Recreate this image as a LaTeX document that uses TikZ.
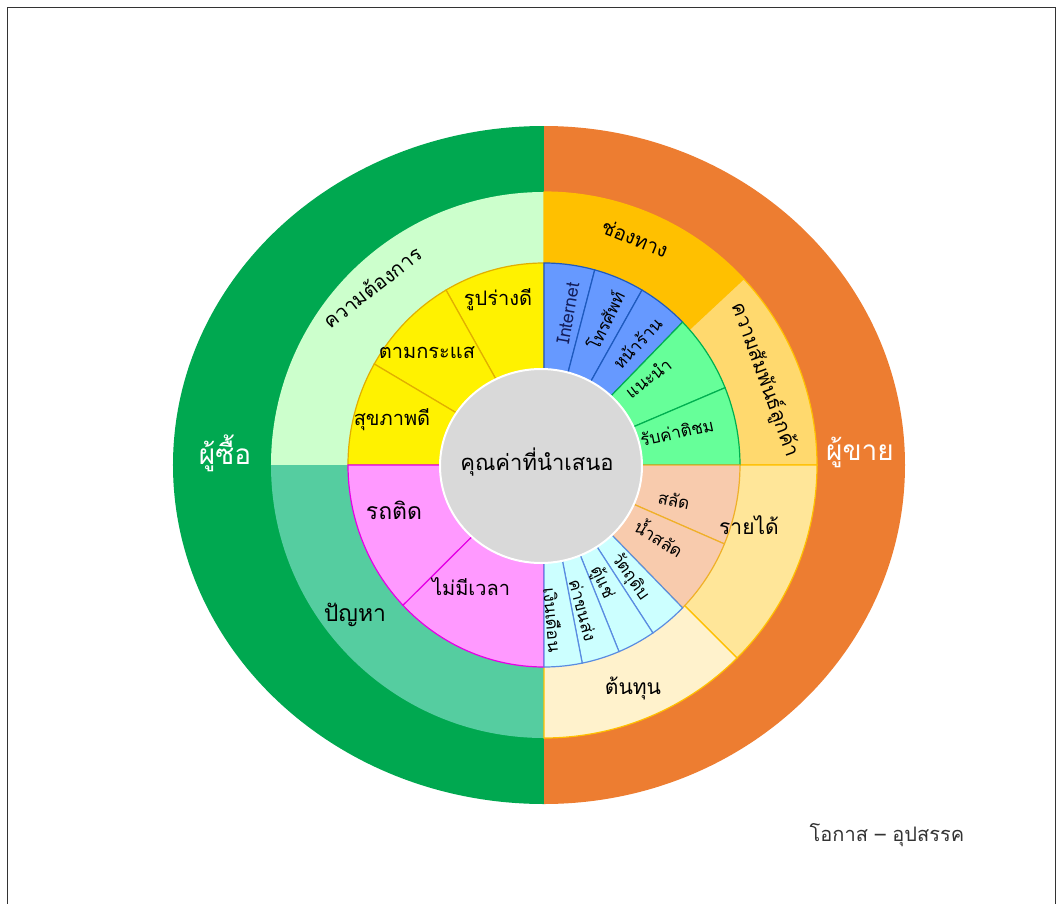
\documentclass[tikz,border=0pt]{standalone}
\usepackage{fontspec}
\newfontfamily\thaifont[Script=Thai]{Loma}

\definecolor{buyergreen}{RGB}{0,168,80}
\definecolor{sellerorange}{RGB}{237,125,49}
\definecolor{wantgreen}{RGB}{204,255,204}
\definecolor{problemteal}{RGB}{85,205,160}
\definecolor{channelgold}{RGB}{255,192,0}
\definecolor{relationtan}{RGB}{255,217,110}
\definecolor{incomecream}{RGB}{255,230,153}
\definecolor{costcream}{RGB}{255,242,204}
\definecolor{valuegray}{RGB}{217,217,217}

\tikzset{
  wantpart/.style={fill=yellow,draw={rgb,255:red,225;green,175;blue,0}},
  pinkpart/.style={fill={rgb,255:red,255;green,153;blue,255},draw={rgb,255:red,230;green,0;blue,230}},
  bluepart/.style={fill={rgb,255:red,102;green,153;blue,255},draw={rgb,255:red,30;green,90;blue,190}},
  greenpart/.style={fill={rgb,255:red,102;green,255;blue,153},draw={rgb,255:red,0;green,176;blue,80}},
  peachpart/.style={fill={rgb,255:red,248;green,203;blue,173},draw={rgb,255:red,240;green,176;blue,40}},
  icepart/.style={fill={rgb,255:red,204;green,255;blue,255},draw={rgb,255:red,90;green,140;blue,225}},
}

% one wedge of the middle ring, and one of the inner ring
\newcommand{\midwedge}[3]{\filldraw[#1] (0,0) -- (#2:273) arc[start angle=#2,end angle=#3,radius=273] -- cycle;}
\newcommand{\innerwedge}[3]{\filldraw[#1] (0,0) -- (#2:196 and 202) arc[start angle=#2,end angle=#3,x radius=196,y radius=202] -- cycle;}

\begin{document}
\begin{tikzpicture}[x=1pt,y=1pt,line width=1.2pt,
  small/.style={font=\thaifont\fontsize{17}{17}\selectfont,inner sep=0pt},
  large/.style={font=\thaifont\fontsize{20}{20}\selectfont,inner sep=0pt},
  middle/.style={font=\thaifont\fontsize{20}{20}\selectfont,inner sep=0pt},
  side/.style={font=\thaifont\fontsize{28}{28}\selectfont,text=white,inner sep=0pt}]
\useasboundingbox (-544,-438) rectangle (513,465);
\draw[line width=1pt,black!80] (-536,-440) -- (-536,457) -- (511,457) -- (511,-440);

% buyer and seller halves
\fill[buyergreen] (0,339) arc[start angle=90,end angle=270,x radius=371,y radius=339] -- cycle;
\fill[sellerorange] (0,339) arc[start angle=90,end angle=-90,x radius=361,y radius=339] -- cycle;

% middle ring
\midwedge{fill=wantgreen,draw=none}{90}{180}
\midwedge{fill=problemteal,draw=none}{180}{270}
\midwedge{fill=channelgold,draw=channelgold}{90}{43}
\midwedge{fill=relationtan,draw=channelgold}{43}{0}
\midwedge{fill=incomecream,draw=channelgold}{0}{-45}
\midwedge{fill=costcream,draw=channelgold}{-45}{-90}

% inner ring
\foreach \a/\b/\s in {90/120/wantpart,120/150/wantpart,150/180/wantpart,
    180/224/pinkpart,224/270/pinkpart,
    90/75/bluepart,75/60/bluepart,60/45/bluepart,
    45/22.5/greenpart,22.5/0/greenpart,
    0/-23/peachpart,-23/-45/peachpart,
    -45/-56.25/icepart,-56.25/-67.5/icepart,-67.5/-78.75/icepart,-78.75/-90/icepart}
  {\innerwedge{\s}{\a}{\b}}

% value proposition
\filldraw[fill=valuegray,draw=white,line width=2pt] (-3,-1) ellipse[x radius=101,y radius=97];
\node[font=\thaifont\fontsize{22}{22}\selectfont,inner sep=0pt] (value) at (-7,3) {คุณค่าที่นำเสนอ};

\node[side] (buyer) at (-319,12) {ผู้ซื้อ};
\node[side] (seller) at (316,13) {ผู้ขาย};

\node[middle,rotate=38] (want) at (-172,178) {ความต้องการ};
\node[middle,font=\thaifont\fontsize{23}{23}\selectfont] (problem) at (-189,-150) {ปัญหา};
\node[middle,rotate=-22] (channel) at (91,227) {ช่องทาง};
\node[middle,rotate=-70] (relation) at (221,85) {ความสัมพันธ์ลูกค้า};
\node[middle,font=\thaifont\fontsize{21}{21}\selectfont] (income) at (205,-60) {รายได้};
\node[middle,font=\thaifont\fontsize{21}{21}\selectfont] (cost) at (89,-223) {ต้นทุน};

\node[large] (shape) at (-46,165) {รูปร่างดี};
\node[large] (trend) at (-117,112) {ตามกระแส};
\node[large] (health) at (-152,45) {สุขภาพดี};
\node[large,font=\thaifont\fontsize{23}{23}\selectfont] (traffic) at (-150,-45) {รถติด};
\node[large] (notime) at (-73,-122) {ไม่มีเวลา};
\node[small,rotate=80,font=\thaifont\fontsize{18}{18}\selectfont,text={rgb,255:red,20;green,30;blue,90}] (internet) at (24,152) {Internet};
\node[small,rotate=64] (phone) at (61,145) {โทรศัพท์};
\node[small,rotate=47] (shop) at (93,122) {หน้าร้าน};
\node[small,rotate=38] (advice) at (104,87) {แนะนำ};
\node[small,rotate=12] (feedback) at (133,33) {รับค่าติชม};
\node[small,rotate=-12] (salad) at (130,-35) {สลัด};
\node[small,rotate=-32] (dressing) at (116,-72) {น้ำสลัด};
\node[small,rotate=-55] (material) at (86,-112) {วัตถุดิบ};
\node[small,rotate=-65] (fridge) at (58,-118) {ตู้แช่};
\node[small,rotate=-75] (shipping) at (39,-145) {ค่าขนส่ง};
\node[small,rotate=-85] (salary) at (9,-155) {เงินเดือน};

\node[font=\thaifont\fontsize{20}{20}\selectfont,text=black!80,inner sep=0pt] (swot) at (343,-370) {โอกาส – อุปสรรค};
\end{tikzpicture}
\end{document}
